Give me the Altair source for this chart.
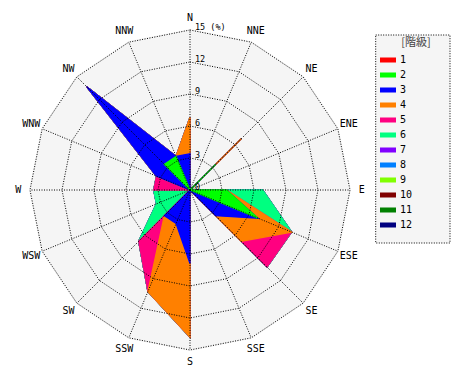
import altair as alt
import pandas as pd

# ---------------- data ----------------
directions = ["N", "NNE", "NE", "ENE", "E", "ESE", "SE", "SSE",
              "S", "SSW", "SW", "WSW", "W", "WNW", "NW", "NNW"]
classes = ["1", "2", "3", "4", "5", "6", "7", "8", "9", "10", "11", "12"]

# frequency (%) per direction for each class, in the order of `directions`
freq_1 = [0, 0, 0, 0, 0, 0, 0, 0, 0, 0, 0, 0, 0, 0, 0, 0]
freq_2 = [0, 0, 3.4, 0, 3.4, 6.9, 0, 0, 0, 0, 0, 0, 0, 0, 3.4, 3.4]
freq_3 = [3.4, 0, 0, 0, 0, 0, 3.4, 0, 6.9, 3.4, 3.4, 0, 0, 3.4, 10.3, 0]
freq_4 = [3.4, 0, 3.4, 0, 0, 3.4, 3.4, 0, 6.9, 6.9, 0, 0, 0, 0, 0, 0]
freq_5 = [0, 0, 0, 0, 0, 0, 3.4, 0, 0, 0, 3.4, 0, 3.4, 0, 0, 0]
freq_6 = [0, 0, 0, 0, 3.4, 0, 0, 0, 0, 0, 0, 3.4, 0, 0, 0, 0]
freq_7 = [0, 0, 0, 0, 0, 0, 0, 0, 0, 0, 0, 0, 0, 0, 0, 0]
freq_8 = [0, 0, 0, 0, 0, 0, 0, 0, 0, 0, 0, 0, 0, 0, 0, 0]
freq_9 = [0, 0, 0, 0, 0, 0, 0, 0, 0, 0, 0, 0, 0, 0, 0, 0]
freq_10 = [0, 0, 0, 0, 0, 0, 0, 0, 0, 0, 0, 0, 0, 0, 0, 0]
freq_11 = [0, 0, 0, 0, 0, 0, 0, 0, 0, 0, 0, 0, 0, 0, 0, 0]
freq_12 = [0, 0, 0, 0, 0, 0, 0, 0, 0, 0, 0, 0, 0, 0, 0, 0]

rings = [3, 6, 9, 12, 15]
ring_ticks = [0, 3, 6, 9, 12, 15]
ring_tick_labels = ["0", "3", "6", "9", "12", "15 (%)"]
legend_title = "[階級]"

# ---------------- styles ----------------
class_colors = ["#ff0000", "#00ff00", "#0000ff", "#ff8000", "#ff0080", "#00ff80",
                "#8000ff", "#0080ff", "#80ff00", "#800000", "#008000", "#000080"]
FONT = "DejaVu Sans Mono"
DOT = [1, 1.5]

freqs = [freq_1, freq_2, freq_3, freq_4, freq_5, freq_6,
         freq_7, freq_8, freq_9, freq_10, freq_11, freq_12]

rows = []
for ci, (cls, vals) in enumerate(zip(classes, freqs)):
    for di, (d, v) in enumerate(zip(directions, vals)):
        rows.append({"cls": cls, "ci": ci, "dir": d, "di": di, "value": v})
wind_df = pd.DataFrame(rows)

grid_df = pd.DataFrame([{"ring": r, "di": di} for r in rings for di in range(len(directions))])
dir_df = pd.DataFrame({"dir": directions, "di": list(range(len(directions)))})
tick_df = pd.DataFrame({"v": ring_ticks, "label": ring_tick_labels})
legend_df = pd.DataFrame({"cls": classes})
one_df = pd.DataFrame({"t": [legend_title]})

# ---------------- geometry ----------------
VIEW_W, VIEW_H = 454, 364
CX, CY = 182, 182
PX = 160 / 15.0
x_dom = [-CX / PX, (VIEW_W - CX) / PX]
y_dom = [-(VIEW_H - CY) / PX, CY / PX]
xs = alt.Scale(domain=x_dom, nice=False, zero=False)
ys = alt.Scale(domain=y_dom, nice=False, zero=False)
X = alt.X("px:Q", scale=xs, axis=None)
Y = alt.Y("py:Q", scale=ys, axis=None)
ANG = "datum.di * PI / 8"
LABEL_R = 16.1

bg = alt.Chart(grid_df).transform_filter("datum.ring == 15").transform_calculate(
    px=f"datum.ring * sin({ANG})", py=f"datum.ring * cos({ANG})"
).mark_line(interpolate="linear-closed", fill="#f5f5f5", stroke="#f5f5f5").encode(
    x=X, y=Y, order="di:Q")

wind_base = alt.Chart(wind_df).transform_window(
    cum="sum(value)", groupby=["dir"], sort=[alt.SortField("ci", order="ascending")], frame=[None, 0]
).transform_calculate(px=f"datum.cum * sin({ANG})", py=f"datum.cum * cos({ANG})")

wind_layers = []
for ci in reversed(range(len(classes))):
    wind_layers.append(
        wind_base.transform_filter(f"datum.ci == {ci}").mark_line(
            interpolate="linear-closed", fill=class_colors[ci], stroke=class_colors[ci], strokeWidth=1.3
        ).encode(x=X, y=Y, order="di:Q")
    )

ring_layer = alt.Chart(grid_df).transform_calculate(
    px=f"datum.ring * sin({ANG})", py=f"datum.ring * cos({ANG})"
).mark_line(interpolate="linear-closed", stroke="black", strokeWidth=1, strokeDash=DOT).encode(
    x=X, y=Y, detail="ring:N", order="di:Q")

spokes = alt.Chart(dir_df).transform_calculate(
    px="0", py="0", qx=f"15 * sin({ANG})", qy=f"15 * cos({ANG})"
).mark_rule(stroke="black", strokeWidth=1, strokeDash=DOT).encode(
    x=X, y=Y, x2="qx:Q", y2="qy:Q")

dir_text = alt.Chart(dir_df).transform_calculate(
    px=f"{LABEL_R} * sin({ANG})", py=f"{LABEL_R} * cos({ANG})"
).mark_text(font=FONT, fontSize=10, color="black", align="center", baseline="middle").encode(
    x=X, y=Y, text="dir:N")

tick_text = alt.Chart(tick_df).transform_calculate(px="0").mark_text(
    font=FONT, fontSize=8.5, color="black", align="left", baseline="middle", dx=5, dy=-3
).encode(x=X, y=alt.Y("v:Q", scale=ys, axis=None), text="label:N")

frame = alt.Chart(one_df).mark_rect(
    fill="#f5f5f5", stroke="black", strokeWidth=1, strokeDash=DOT
).encode(x=alt.value(367.7), x2=alt.value(442), y=alt.value(27), y2=alt.value(235))

title = alt.Chart(one_df).mark_text(
    font="Noto Sans CJK JP", fontSize=11, color="#444444", align="center", baseline="middle"
).encode(x=alt.value(408), y=alt.value(35), text="t:N")

legend_layer = alt.Chart(legend_df).mark_rect().encode(
    x=alt.value(0), x2=alt.value(0), y=alt.value(0), y2=alt.value(0),
    fill=alt.Fill("cls:N", scale=alt.Scale(domain=classes, range=class_colors),
                  legend=alt.Legend(title=None, orient="none", legendX=372, legendY=44.5,
                                    symbolType="M-1,-0.3125L1,-0.3125L1,0.3125L-1,0.3125Z",
                                    symbolSize=256, symbolStrokeWidth=0,
                                    labelFont=FONT, labelFontSize=10, labelColor="black",
                                    labelOffset=4, rowPadding=0, clipHeight=15, padding=0)))

chart = alt.layer(bg, *wind_layers, ring_layer, spokes, dir_text, tick_text,
                  frame, title, legend_layer).properties(
    width=VIEW_W, height=VIEW_H, padding=0, autosize="none"
).configure_view(stroke=None)

chart.save("out.html", embed_options={"renderer": "svg", "actions": False})
